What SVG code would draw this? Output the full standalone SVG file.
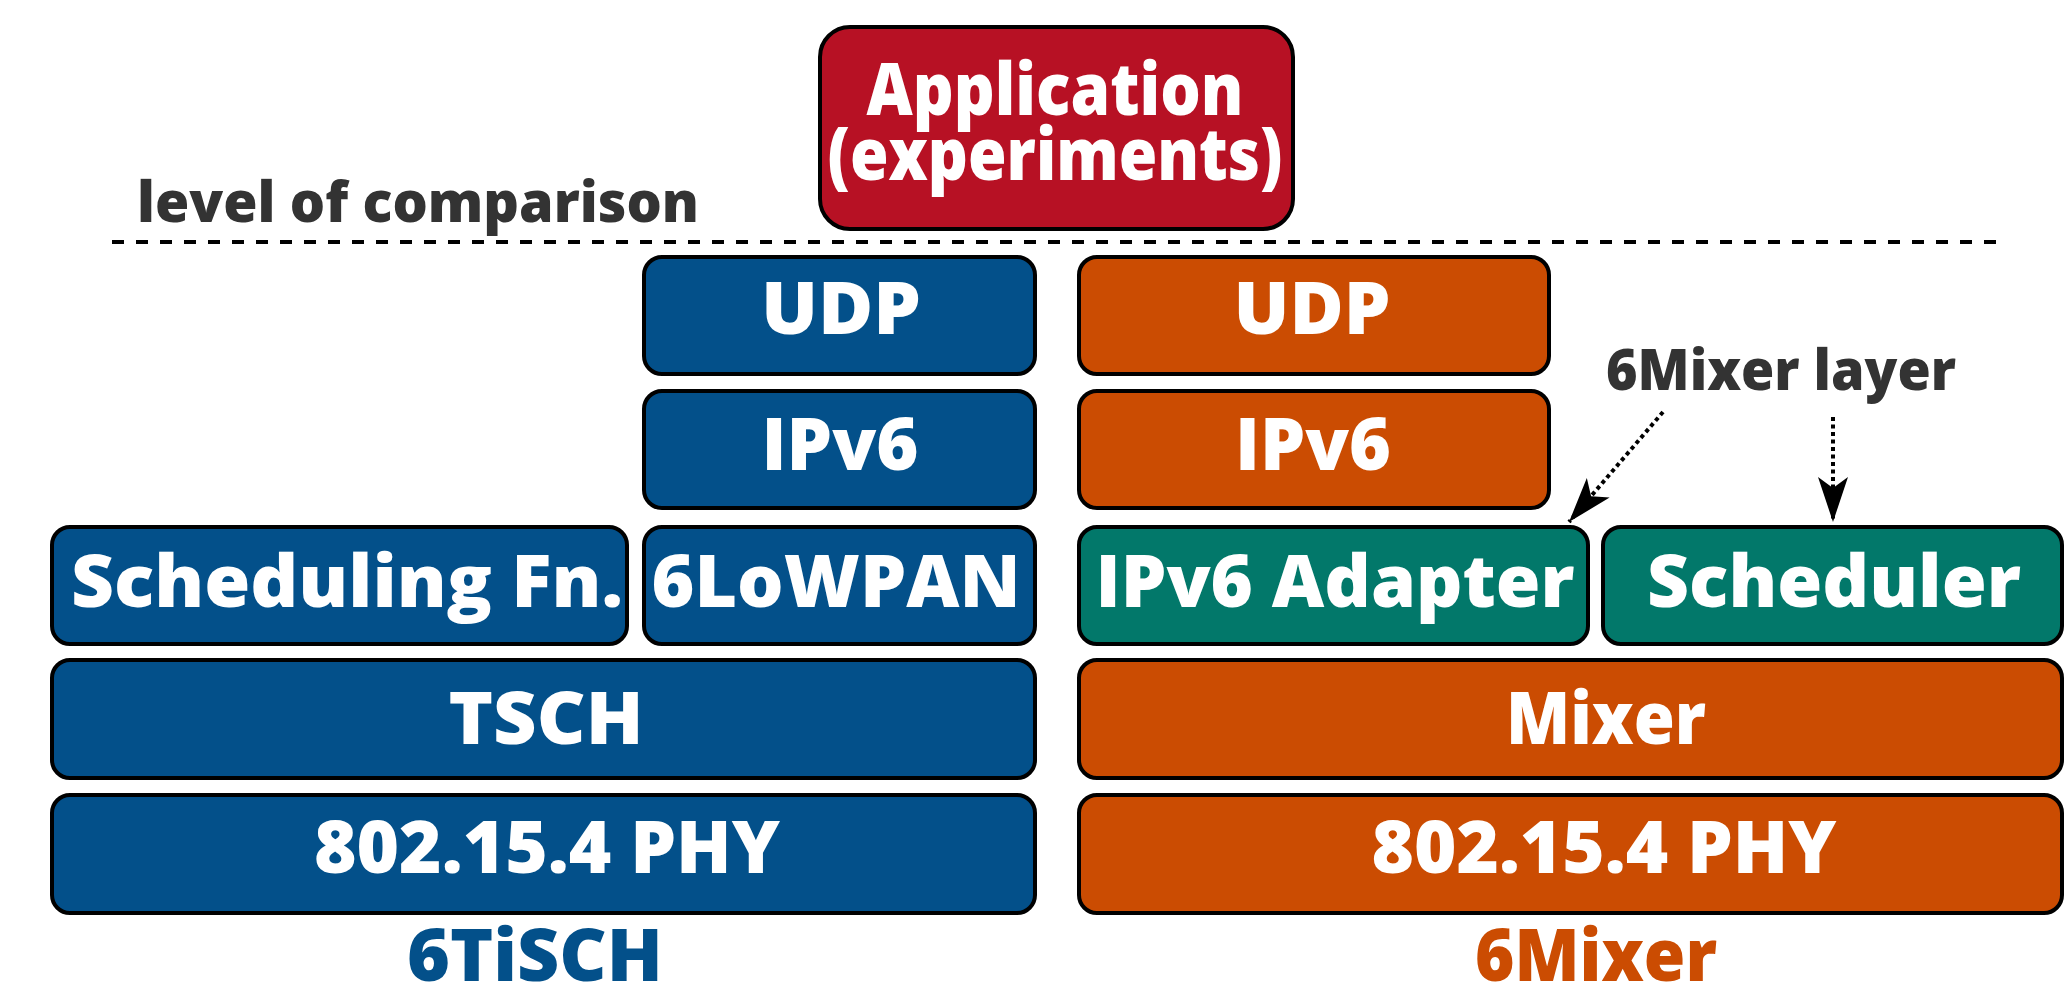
<svg xmlns="http://www.w3.org/2000/svg" width="2069" height="991" viewBox="0 0 2069 991">
  <style>
    .box { stroke: #000; stroke-width: 4; }
    .blue { fill: #03508a; }
    .orange { fill: #cb4c02; }
    .green { fill: #02786a; }
    .red { fill: #b71124; }
    .lbl { font-family: "Open Sans", "Liberation Sans", sans-serif; font-weight: 800; fill: #fff; font-size: 72px; text-anchor: middle; }
    .note { font-family: "Open Sans", "Liberation Sans", sans-serif; font-weight: 800; fill: #333; font-size: 56px; }
    .stack { font-family: "Open Sans", "Liberation Sans", sans-serif; font-weight: 800; font-size: 73px; text-anchor: middle; }
    .dotted { fill: none; stroke: #000; stroke-width: 4; stroke-dasharray: 4 3.5; }
  </style>
  <defs>
    <marker id="head" markerUnits="userSpaceOnUse" markerWidth="50" markerHeight="34" refX="45" refY="17" orient="auto">
      <path d="M0,2 L45,17 L0,32 L11,17 Z" fill="#000"/>
    </marker>
  </defs>
  <rect width="2069" height="991" fill="#fff"/>

  <!-- application on top -->
  <g id="application">
    <rect class="box red" x="820" y="27" width="473" height="202" rx="30"/>
    <text class="lbl" x="1055" y="115" font-size="67" textLength="377" lengthAdjust="spacingAndGlyphs">Application</text>
    <text class="lbl" x="1055" y="180" font-size="67" textLength="455" lengthAdjust="spacingAndGlyphs">(experiments)</text>
  </g>

  <!-- comparison level -->
  <g id="comparison-level">
    <text class="note" x="137" y="222" textLength="562" lengthAdjust="spacingAndGlyphs">level of comparison</text>
    <line x1="112" y1="242" x2="1998" y2="242" stroke="#000" stroke-width="4" stroke-dasharray="12 12"/>
  </g>

  <!-- 6TiSCH stack -->
  <g id="tisch-udp">
    <rect class="box blue" x="644" y="257" width="391" height="117" rx="18"/>
    <text class="lbl" x="841" y="334" textLength="160" lengthAdjust="spacingAndGlyphs">UDP</text>
  </g>
  <g id="tisch-ipv6">
    <rect class="box blue" x="644" y="391" width="391" height="117" rx="18"/>
    <text class="lbl" x="840" y="470" textLength="157" lengthAdjust="spacingAndGlyphs">IPv6</text>
  </g>
  <g id="tisch-sf">
    <rect class="box blue" x="52" y="527" width="575" height="117" rx="18"/>
    <text class="lbl" x="347" y="607" textLength="552" lengthAdjust="spacingAndGlyphs">Scheduling Fn.</text>
  </g>
  <g id="tisch-6lowpan">
    <rect class="box blue" x="644" y="527" width="391" height="117" rx="18"/>
    <text class="lbl" x="836" y="607" textLength="369" lengthAdjust="spacingAndGlyphs">6LoWPAN</text>
  </g>
  <g id="tisch-tsch">
    <rect class="box blue" x="52" y="660" width="983" height="118" rx="18"/>
    <text class="lbl" x="546" y="744" textLength="195" lengthAdjust="spacingAndGlyphs">TSCH</text>
  </g>
  <g id="tisch-phy">
    <rect class="box blue" x="52" y="795" width="983" height="118" rx="18"/>
    <text class="lbl" x="547" y="873" textLength="466" lengthAdjust="spacingAndGlyphs">802.15.4 PHY</text>
  </g>
  <text id="tisch-name" class="stack" x="535" y="981" fill="#03508a" textLength="256" lengthAdjust="spacingAndGlyphs">6TiSCH</text>

  <!-- 6Mixer stack -->
  <g id="mixer-udp">
    <rect class="box orange" x="1079" y="257" width="470" height="117" rx="18"/>
    <text class="lbl" x="1312" y="334" textLength="157" lengthAdjust="spacingAndGlyphs">UDP</text>
  </g>
  <g id="mixer-ipv6">
    <rect class="box orange" x="1079" y="391" width="470" height="117" rx="18"/>
    <text class="lbl" x="1313" y="470" textLength="156" lengthAdjust="spacingAndGlyphs">IPv6</text>
  </g>
  <g id="mixer-adapter">
    <rect class="box green" x="1079" y="527" width="509" height="117" rx="18"/>
    <text class="lbl" x="1335" y="607" textLength="479" lengthAdjust="spacingAndGlyphs">IPv6 Adapter</text>
  </g>
  <g id="mixer-scheduler">
    <rect class="box green" x="1603" y="527" width="459" height="117" rx="18"/>
    <text class="lbl" x="1834" y="607" textLength="374" lengthAdjust="spacingAndGlyphs">Scheduler</text>
  </g>
  <g id="mixer-mixer">
    <rect class="box orange" x="1079" y="660" width="983" height="118" rx="18"/>
    <text class="lbl" x="1606" y="744" textLength="200" lengthAdjust="spacingAndGlyphs">Mixer</text>
  </g>
  <g id="mixer-phy">
    <rect class="box orange" x="1079" y="795" width="983" height="118" rx="18"/>
    <text class="lbl" x="1604" y="873" textLength="465" lengthAdjust="spacingAndGlyphs">802.15.4 PHY</text>
  </g>
  <text id="mixer-name" class="stack" x="1596" y="981" fill="#cb4c02" textLength="242" lengthAdjust="spacingAndGlyphs">6Mixer</text>

  <!-- annotation -->
  <g id="mixer-layer-note">
    <text class="note" x="1606" y="390" textLength="350" lengthAdjust="spacingAndGlyphs">6Mixer layer</text>
  </g>

  <!-- connectors -->
  <g id="connectors">
    <path class="dotted" d="M1663,412 L1569,522" marker-end="url(#head)"/>
    <path class="dotted" d="M1833,417 L1833,522" marker-end="url(#head)"/>
  </g>
</svg>
